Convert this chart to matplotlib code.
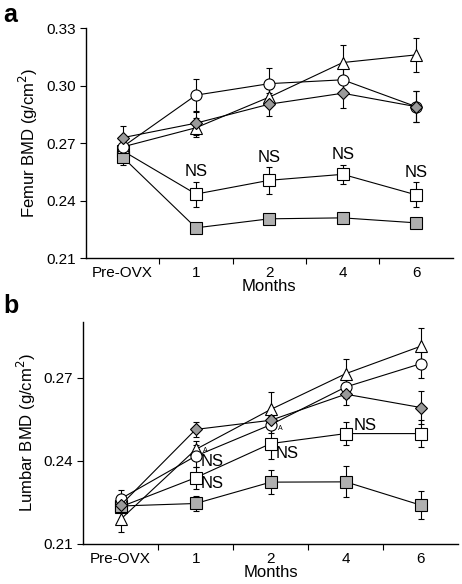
import matplotlib.pyplot as plt
import numpy as np

plt.rcParams['font.family'] = ['Liberation Sans', 'DejaVu Sans']

months = ['Pre-OVX', '1', '2', '4', '6']

# panel a: femur BMD (g/cm2)
fem_tri = [0.268, 0.278, 0.294, 0.312, 0.316]
fem_tri_err = [0.005, 0.005, 0.004, 0.009, 0.0087]
fem_circ = [0.268, 0.295, 0.301, 0.303, 0.289]
fem_circ_err = [0.005, 0.0083, 0.008, 0.006, 0.008]
fem_dia = [0.2728, 0.2804, 0.2903, 0.296, 0.289]
fem_dia_err = [0.006, 0.006, 0.006, 0.0077, 0.008]
fem_sq = [0.266, 0.2434, 0.2506, 0.2537, 0.243]
fem_sq_err = [0.004, 0.0065, 0.007, 0.005, 0.0065]
fem_gsq = [0.2627, 0.2258, 0.2305, 0.231, 0.2284]
fem_gsq_err = [0.004, 0.002, 0.002, 0.002, 0.001]

# panel b: lumbar BMD (g/cm2)
lum_tri = [0.2189, 0.2441, 0.2585, 0.2714, 0.2813]
lum_tri_err = [0.0044, 0.003, 0.0064, 0.0054, 0.0066]
lum_circ = [0.2263, 0.2417, 0.253, 0.2666, 0.275]
lum_circ_err = [0.003, 0.004, 0.003, 0.004, 0.005]
lum_dia = [0.224, 0.2513, 0.2546, 0.264, 0.2592]
lum_dia_err = [0.002, 0.0028, 0.003, 0.004, 0.006]
lum_sq = [0.2234, 0.2339, 0.2462, 0.2498, 0.2498]
lum_sq_err = [0.002, 0.004, 0.0055, 0.004, 0.005]
lum_gsq = [0.2237, 0.2246, 0.2323, 0.2324, 0.224]
lum_gsq_err = [0.002, 0.0027, 0.0043, 0.0056, 0.005]

GREY = '#b0b0b0'
DGREY = '#9a9a9a'

fig = plt.figure(figsize=(4.62, 5.84), dpi=100)
ax_a = fig.add_axes([0.186, 0.558, 0.794, 0.394])
ax_b = fig.add_axes([0.180, 0.0685, 0.812, 0.380])

x = np.arange(len(months))

def draw(ax, series):
  for vals, errs, mk, fc in series:
    ax.errorbar(x, vals, yerr=errs, color='k', lw=0.8, elinewidth=0.8,
                capsize=2.5, capthick=0.8, marker=mk, ms=8 if mk != 'D' else 6.5,
                mfc=fc, mec='k', mew=0.8)

def style(ax, ylim, yticks):
  ax.set_xlim(-0.5, 4.5)
  ax.set_ylim(*ylim)
  ax.set_yticks(yticks)
  ax.set_yticklabels([f'{t:.2f}' for t in yticks])
  ax.set_xticks(x)
  ax.set_xticklabels(months)
  ax.set_xticks(x[:-1] + 0.5, minor=True)
  ax.tick_params(axis='x', which='major', length=0, pad=6, labelsize=11)
  ax.tick_params(axis='x', which='minor', length=4, width=0.8)
  ax.tick_params(axis='y', length=4, width=0.8, labelsize=11)
  ax.spines['top'].set_visible(False)
  ax.spines['right'].set_visible(False)
  for s in ['left', 'bottom']:
    ax.spines[s].set_linewidth(1.0)
  ax.set_xlabel('Months', fontsize=12, labelpad=-1)

draw(ax_a, [
  (fem_sq, fem_sq_err, 's', 'white'),
  (fem_gsq, fem_gsq_err, 's', GREY),
  (fem_tri, fem_tri_err, '^', 'white'),
  (fem_circ, fem_circ_err, 'o', 'white'),
  (fem_dia, fem_dia_err, 'D', DGREY),
])
style(ax_a, (0.21, 0.33), [0.21, 0.24, 0.27, 0.30, 0.33])
ax_a.set_ylabel('Femur BMD (g/cm$^2$)', fontsize=12, labelpad=4)
for i in range(1, 5):
  ax_a.text(x[i], fem_sq[i] + fem_sq_err[i] + 0.0012, 'NS', ha='center', va='bottom', fontsize=12)

draw(ax_b, [
  (lum_sq, lum_sq_err, 's', 'white'),
  (lum_gsq, lum_gsq_err, 's', GREY),
  (lum_tri, lum_tri_err, '^', 'white'),
  (lum_circ, lum_circ_err, 'o', 'white'),
  (lum_dia, lum_dia_err, 'D', DGREY),
])
style(ax_b, (0.21, 0.29), [0.21, 0.24, 0.27])
ax_b.set_ylabel('Lumbar BMD (g/cm$^2$)', fontsize=12, labelpad=4)
ax_b.text(x[1] + 0.07, lum_circ[1] - 0.002, 'NS', ha='left', va='center', fontsize=12)
ax_b.text(x[1] + 0.07, lum_sq[1] - 0.002, 'NS', ha='left', va='center', fontsize=12)
ax_b.text(x[2] + 0.07, lum_sq[2] - 0.0035, 'NS', ha='left', va='center', fontsize=12)
ax_b.text(x[3] + 0.1, lum_sq[3] + 0.0028, 'NS', ha='left', va='center', fontsize=12)
ax_b.text(x[1] + 0.1, lum_tri[1] - 0.0005, 'A', ha='left', va='center', fontsize=5)
ax_b.text(x[2] + 0.1, lum_circ[2] - 0.0015, 'A', ha='left', va='center', fontsize=5)

fig.text(0.008, 0.995, 'a', fontsize=18, fontweight='bold', va='top')
fig.text(0.008, 0.497, 'b', fontsize=18, fontweight='bold', va='top')

fig.savefig('out.png', dpi=100)
